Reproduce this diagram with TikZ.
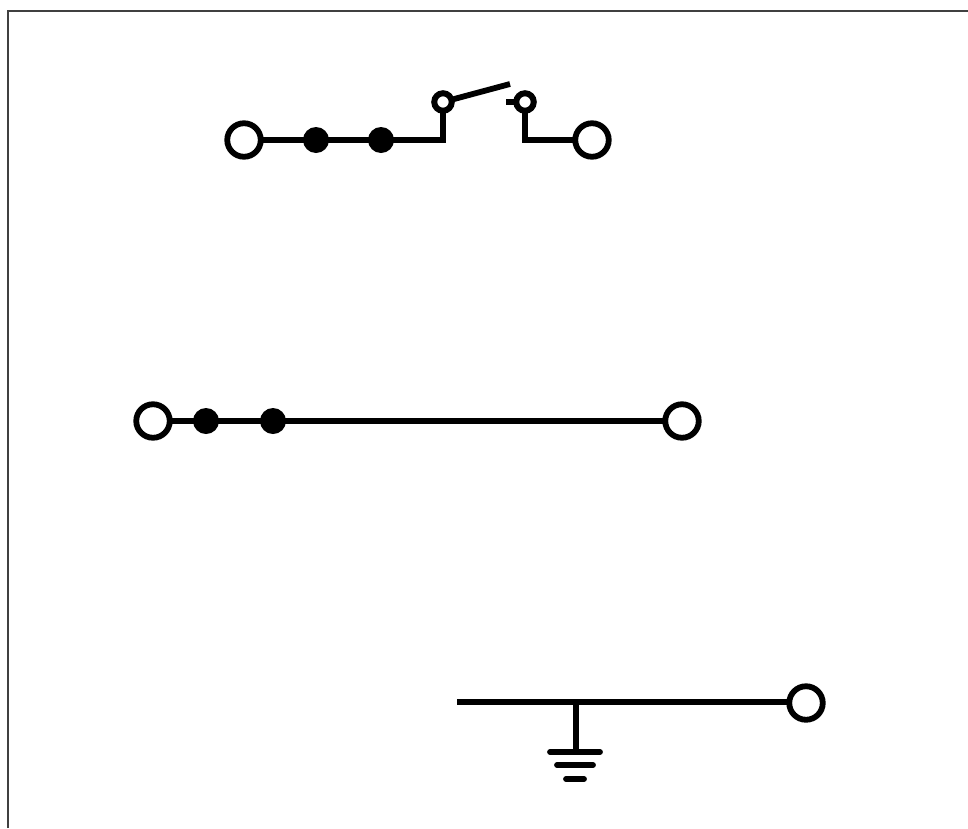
\documentclass[tikz,border=0pt]{standalone}
\usetikzlibrary{backgrounds}
\tikzset{
  wire/.style={draw=black,line width=5.8pt},
  term/.style={circle,draw=black,fill=white,line width=5.8pt,inner sep=0pt,outer sep=0pt,minimum size=33.5pt},
  contact/.style={circle,draw=black,fill=white,line width=6pt,inner sep=0pt,outer sep=0pt,minimum size=17.5pt},
  jointdot/.style={circle,fill=black,draw=none,inner sep=0pt,outer sep=0pt,minimum size=26pt},
  frameline/.style={draw=black!75,line width=2pt}
}
\begin{document}
\begin{tikzpicture}[x=1pt,y=-1pt]
\useasboundingbox (0,0) rectangle (968,828);
\coordinate (fa) at (8,828);
\coordinate (fb) at (8,11);
\coordinate (fc) at (968,11);
\draw[frameline] (fa) -- (fb) -- (fc);
% top row
\node[term] (t1) at (244,140) {};
\node[jointdot] (d1) at (316,140) {};
\node[jointdot] (d2) at (381,140) {};
\node[contact] (c1) at (443,102) {};
\node[contact] (c2) at (525,102) {};
\node[term] (t2) at (592,140) {};
\coordinate (armend) at (510,84);
\coordinate (stub) at (506,102);
% middle row
\node[term] (t3) at (153,421) {};
\node[jointdot] (d3) at (206,421) {};
\node[jointdot] (d4) at (273,421) {};
\node[term] (t4) at (682,421) {};
% bottom row
\coordinate (busstart) at (457,702);
\node[term] (t5) at (806,703) {};
\coordinate (tap) at (576,702);
\coordinate (g1l) at (550,752);
\coordinate (g1m) at (576,752);
\coordinate (g1r) at (600,752);
\coordinate (g2l) at (557,765);
\coordinate (g2r) at (593,765);
\coordinate (g3l) at (566,779);
\coordinate (g3r) at (584,779);
\begin{pgfonlayer}{background}
\draw[wire] (t1.center) -- (d1.center) -- (d2.center);
\draw[wire] (d2.center) -| (c1.center);
\draw[wire] (c1.center) -- (armend);
\draw[wire] (stub) -- (c2.center);
\draw[wire] (c2.center) |- (t2.center);
\draw[wire] (t3.center) -- (d3.center) -- (d4.center) -- (t4.center);
\draw[wire] (busstart) -- (t5.center |- busstart);
\draw[wire] (tap) -- (g1m);
\draw[wire,line cap=round] (g1l) -- (g1r);
\draw[wire,line cap=round] (g2l) -- (g2r);
\draw[wire,line cap=round] (g3l) -- (g3r);
\end{pgfonlayer}
\end{tikzpicture}
\end{document}
